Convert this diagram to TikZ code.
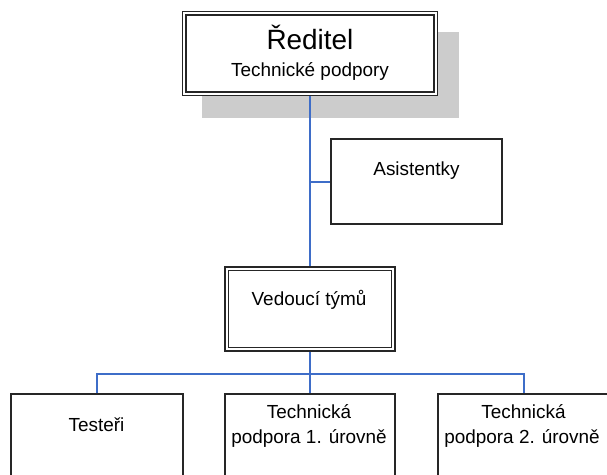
\documentclass[tikz,border=0pt]{standalone}
\usepackage{fontspec}
\setmainfont{Liberation Sans}
\definecolor{linkblue}{HTML}{3E6DC8}
\definecolor{shadowgray}{HTML}{CCCCCC}
\definecolor{edgegray}{HTML}{262626}
\begin{document}
\begin{tikzpicture}[x=1bp,y=-1bp,
  box/.style={draw=edgegray, line width=1.4bp, fill=white, minimum width=171bp,
              minimum height=85bp, inner sep=0bp, outer sep=0.7bp},
  dbox/.style={box, line width=1.25bp, double=white, double distance=2.3bp, outer sep=2.4bp},
  lbl/.style={anchor=base, inner sep=0bp, font=\fontsize{19}{22}\selectfont},
  link/.style={draw=linkblue, line width=1.3bp}]
\useasboundingbox (0,0) rectangle (607,475);

% drop shadow behind the top box
\fill[shadowgray] (202,32) rectangle (459,118);

% boxes of the chart
\node[dbox, minimum width=251.4bp, minimum height=80.4bp] (ceo) at (310,53.5) {};
\node[box] (asst) at (416.5,181.5) {};
\node[dbox, minimum width=166.5bp, minimum height=80.5bp] (lead) at (310,309) {};
\node[box, minimum width=172bp] (test) at (97,436.5) {};
\node[box, minimum width=170bp] (sup1) at (310,436.5) {};
\node[box, minimum width=172bp] (sup2) at (524,436.5) {};
\coordinate (branch) at (310,182);
\coordinate (bus) at (310,374);

% texts
\node[lbl, font=\fontsize{28}{32}\selectfont] (ceo-name) at (310,50) {Ředitel};
\node[lbl] (ceo-unit) at (310,77) {Technické podpory};
\node[lbl] (asst-text) at (416.5,176) {Asistentky};
\node[lbl] (lead-text) at (309,305) {Vedoucí týmů};
\node[lbl] (test-text) at (96.5,431) {Testeři};
\node[lbl] (sup1-a) at (309,418) {Technická};
\node[lbl] (sup1-b) at (309,443) {podpora 1. úrovně};
\node[lbl] (sup2-a) at (523.5,418) {Technická};
\node[lbl] (sup2-b) at (522,443) {podpora 2. úrovně};

% connectors
\draw[link] (ceo.south) -- (lead.north);
\draw[link] (branch) -- (branch -| asst.west);
\draw[link] (lead.south) -- (sup1.north);
\draw[link] (test.north) |- (bus) -| (sup2.north);
\end{tikzpicture}
\end{document}
